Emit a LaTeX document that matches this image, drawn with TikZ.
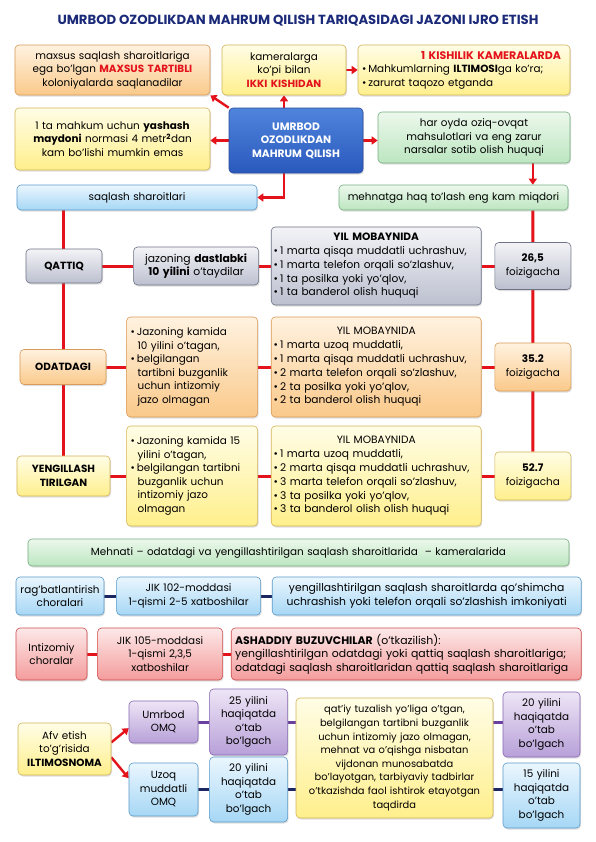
\documentclass[tikz,border=0pt]{standalone}
\usepackage{fontspec}
\setmainfont{Poppins}
\usetikzlibrary{arrows.meta}
\usetikzlibrary{positioning}
\usetikzlibrary{shadows}
\usetikzlibrary{backgrounds}
\definecolor{hred}{HTML}{E3121B}
\definecolor{navy}{HTML}{1B2A78}
\definecolor{linknavy}{HTML}{1C2660}
\definecolor{linkpurple}{HTML}{6B3FA0}
\definecolor{orangeT}{HTML}{FFF2E0}
\definecolor{orangeB}{HTML}{FAC98A}
\definecolor{orangeD}{HTML}{D99A55}
\definecolor{yellowT}{HTML}{FFFDE6}
\definecolor{yellowB}{HTML}{FFEF8C}
\definecolor{yellowD}{HTML}{D4B458}
\definecolor{greenT}{HTML}{ECF8EC}
\definecolor{greenB}{HTML}{BCE6C0}
\definecolor{greenD}{HTML}{74AE80}
\definecolor{lblueT}{HTML}{EAF6FE}
\definecolor{lblueB}{HTML}{A6D7F5}
\definecolor{lblueD}{HTML}{5B9BCB}
\definecolor{cblueT}{HTML}{4F84DC}
\definecolor{cblueB}{HTML}{2A59BD}
\definecolor{cblueD}{HTML}{2A4C9C}
\definecolor{greyT}{HTML}{F3F3F7}
\definecolor{greyB}{HTML}{BCC0CF}
\definecolor{greyD}{HTML}{6E7385}
\definecolor{redT}{HTML}{FDE8E8}
\definecolor{redB}{HTML}{F49C9C}
\definecolor{redD}{HTML}{CF4D4D}
\definecolor{purpT}{HTML}{EEE5F6}
\definecolor{purpB}{HTML}{B7A0D8}
\definecolor{purpD}{HTML}{8667B2}
\newcommand{\bulitem}{\textbullet\hspace{2bp}}
\newcommand{\bulcont}{\hspace*{7bp}}
\newcommand{\midline}[1]{\hspace*{\fill}#1\hspace*{\fill}\null}
\hyphenpenalty=10000

\begin{document}
\begin{tikzpicture}[x=1bp, y=-1bp, font=\fontsize{10.4bp}{13.5bp}\selectfont,
                box/.style={rectangle, rounded corners=4bp, line width=0.6bp, align=center, inner sep=2bp,
                            drop shadow={opacity=0.25, shadow xshift=1bp, shadow yshift=-1.5bp}},
                boxsize/.style 2 args={minimum width=#1bp, minimum height=#2bp, text width=#1bp-8bp},
                orangebox/.style={box, draw=orangeD, top color=orangeT, bottom color=orangeB},
                yellowbox/.style={box, draw=yellowD, top color=yellowT, bottom color=yellowB},
                greenbox/.style={box, draw=greenD, top color=greenT, bottom color=greenB},
                lightbluebox/.style={box, draw=lblueD, top color=lblueT, bottom color=lblueB},
                centralbox/.style={box, draw=cblueD, top color=cblueT, bottom color=cblueB, text=white},
                greybox/.style={box, draw=greyD, top color=greyT, bottom color=greyB},
                redbox/.style={box, draw=redD, top color=redT, bottom color=redB},
                purplebox/.style={box, draw=purpD, top color=purpT, bottom color=purpB},
                yiltext/.style={align=left, text width=205bp, font=\fontsize{10.6bp}{13.8bp}\selectfont},
                arrow/.style={draw=hred, line width=2.4bp, -{Triangle[length=6bp,width=8bp]}},
                redlink/.style={draw=hred, line width=3bp},
                navylink/.style={draw=linknavy, line width=3bp},
                purplelink/.style={draw=linkpurple, line width=3bp}
            ]
            \useasboundingbox (0,0) rectangle (596,842);
            \node[font=\fontsize{13.2bp}{15bp}\selectfont\bfseries, text=navy] (title) at (298,21)
                {UMRBOD OZODLIKDAN MAHRUM QILISH TARIQASIDAGI JAZONI IJRO ETISH};
            % top
            \node[orangebox, boxsize={195}{50}] (maxsus) at (112.5,70)
                {maxsus saqlash sharoitlariga\\ ega bo'lgan \textcolor{hred}{\textbf{MAXSUS TARTIBLI}}\\ koloniyalarda saqlanadilar};
            \node[yellowbox, boxsize={124}{50}] (kamera) at (284,70)
                {kameralarga\\ ko'pi bilan\\ \textcolor{hred}{\textbf{IKKI KISHIDAN}}};
            \node[yellowbox, boxsize={212}{50}, align=left] (kishilik) at (464,70)
                {\hspace*{\fill}\textcolor{hred}{\textbf{\fontsize{11bp}{13.5bp}\selectfont 1 KISHILIK KAMERALARDA}}\hspace*{5bp}\null\\
                 \bulitem Mahkumlarning \textbf{ILTIMOSI}ga ko'ra;\\ \bulitem zarurat taqozo etganda};
            \node[yellowbox, boxsize={195}{62}] (yashash) at (112.5,139)
                {1 ta mahkum uchun \textbf{yashash}\\ \textbf{maydoni} normasi 4 metr\textsuperscript{\textbf{2}}dan\\ kam bo'lishi mumkin emas};
            \node[centralbox, boxsize={134}{65}, font=\fontsize{10.7bp}{13.5bp}\selectfont\bfseries] (umrbod) at (296,140.5)
                {UMRBOD\\ OZODLIKDAN\\ MAHRUM QILISH};
            \node[greenbox, boxsize={192}{51}] (oziq) at (474,137.5)
                {har oyda oziq-ovqat\\ mahsulotlari va eng zarur\\ narsalar sotib olish huquqi};
            \node[lightbluebox, boxsize={240}{25}] (saqlash) at (137,197.5) {saqlash sharoitlari};
            \node[greenbox, boxsize={229}{25}] (mehnat) at (453.5,197.5) {mehnatga haq to'lash eng kam miqdori};
            % qattiq
            \node[greybox, boxsize={76}{34}] (qattiq) at (64,266) {\textbf{QATTIQ}};
            \node[greybox, boxsize={125}{38}, right=31bp of qattiq, font=\fontsize{10.8bp}{13.5bp}\selectfont] (jazo1)
                {jazoning \textbf{dastlabki}\\ \textbf{10 yilini} o'taydilar};
            \node[greybox, boxsize={210}{78}, right=12bp of jazo1, yiltext] (yil1)
                {\midline{\textbf{YIL MOBAYNIDA}}\\
                 \bulitem 1 marta qisqa muddatli uchrashuv,\\ \bulitem 1 marta telefon orqali so'zlashuv,\\
                 \bulitem 1 ta posilka yoki yo'qlov,\\ \bulitem 1 ta banderol olish huquqi};
            \node[greybox, boxsize={76}{47}, right=13bp of yil1] (p265) {\textbf{26,5}\\ foizigacha};
            % odatdagi
            \node[orangebox, boxsize={86}{35}] (odat) at (63,367) {\textbf{ODATDAGI}};
            \node[orangebox, boxsize={131}{100}, right=20bp of odat, align=left] (bul2)
                {\bulitem Jazoning kamida\\ \bulcont 10 yilini o'tagan,\\ \bulitem belgilangan\\
                 \bulcont tartibni buzganlik\\ \bulcont uchun intizomiy\\ \bulcont jazo olmagan};
            \node[orangebox, boxsize={210}{100}, right=13bp of bul2, yiltext] (yil2)
                {\midline{YIL MOBAYNIDA}\\
                 \bulitem 1 marta uzoq muddatli,\\ \bulitem 1 marta qisqa muddatli uchrashuv,\\
                 \bulitem 2 marta telefon orqali so'zlashuv,\\ \bulitem 2 ta posilka yoki yo'qlov,\\
                 \bulitem 2 ta banderol olish huquqi};
            \node[orangebox, boxsize={76}{48}, right=13bp of yil2] (p352) {\textbf{35.2}\\ foizigacha};
            % yengillashtirilgan
            \node[yellowbox, boxsize={93}{40}] (yengil) at (63.5,476) {\textbf{YENGILLASH}\\ \textbf{TIRILGAN}};
            \node[yellowbox, boxsize={131}{100}, right=16bp of yengil, align=left] (bul3)
                {\bulitem Jazoning kamida 15\\ \bulcont yilini o'tagan,\\ \bulitem belgilangan tartibni\\
                 \bulcont buzganlik uchun\\ \bulcont intizomiy jazo\\ \bulcont olmagan};
            \node[yellowbox, boxsize={210}{100}, right=13bp of bul3, yiltext] (yil3)
                {\midline{YIL MOBAYNIDA}\\
                 \bulitem 1 marta uzoq muddatli,\\ \bulitem 2 marta qisqa muddatli uchrashuv,\\
                 \bulitem 3 marta telefon orqali so'zlashuv,\\ \bulitem 3 ta posilka yoki yo'qlov,\\
                 \bulitem 3 ta banderol olish olish huquqi};
            \node[yellowbox, boxsize={76}{48}, right=13bp of yil3] (p527) {\textbf{52.7}\\ foizigacha};
            \node[greenbox, boxsize={541}{27}] (mehnati) at (298.5,552.5)
                {Mehnati -- odatdagi va yengillashtirilgan saqlash sharoitlarida ~-- kameralarida};
            % choralar
            \node[lightbluebox, boxsize={88}{38}] (rag) at (60,596) {\mbox{rag'batlantirish}\\ choralari};
            \node[lightbluebox, boxsize={144}{38}, right=12bp of rag] (jik102) {JIK 102-moddasi\\ 1-qismi 2-5 xatboshilar};
            \node[lightbluebox, boxsize={309}{38}, right=11bp of jik102, font=\fontsize{10.8bp}{13.5bp}\selectfont] (imkon)
                {yengillashtirilgan saqlash sharoitlarda qo'shimcha\\ uchrashish yoki telefon orqali so'zlashish imkoniyati};
            \node[redbox, boxsize={71}{52}] (intiz) at (51.5,654) {Intizomiy\\ choralar};
            \node[redbox, boxsize={125}{52}, right=10bp of intiz] (jik105) {JIK 105-moddasi\\ 1-qismi 2,3,5\\ xatboshilar};
            \node[redbox, boxsize={350}{52}, right=8bp of jik105, align=left, font=\fontsize{10.9bp}{13.5bp}\selectfont] (ashad)
                {\textbf{ASHADDIY BUZUVCHILAR} (o'tkazilish):\\
                 yengillashtirilgan odatdagi yoki qattiq saqlash sharoitlariga;\\
                 odatdagi saqlash sharoitlaridan qattiq saqlash sharoitlariga};
            % afv
            \node[yellowbox, boxsize={93}{52}] (afv) at (64.5,749) {Afv etish\\ to'g'risida\\ \textbf{ILTIMOSNOMA}};
            \node[purplebox, boxsize={69}{42}] (omq1) at (163.5,722) {Umrbod\\ OMQ};
            \node[lightbluebox, boxsize={69}{53}] (omq2) at (163.5,789.5) {Uzoq\\ muddatli\\ OMQ};
            \node[purplebox, boxsize={78}{66}, right=11bp of omq1] (y25)
                {25 yilini\\ haqiqatda\\ o'tab\\ bo'lgach};
            \node[lightbluebox, boxsize={78}{65}, right=11bp of omq2] (y20a)
                {20 yilini\\ haqiqatda\\ o'tab\\ bo'lgach};
            \node[yellowbox, boxsize={195}{120}, text width=193bp, font=\fontsize{9.9bp}{13.6bp}\selectfont] (shart) at (394.5,758)
                {qat'iy tuzalish yo'liga o'tgan,\\ belgilangan tartibni buzganlik\\ uchun intizomiy jazo olmagan,\\
                 mehnat va o'qishga nisbatan\\ vijdonan munosabatda\\ bo'layotgan, tarbiyaviy tadbirlar\\
                 o'tkazishda faol ishtirok etayotgan\\ taqdirda};
            \node[purplebox, boxsize={77}{65}] (y20b) at (541.5,724.5)
                {20 yilini\\ haqiqatda\\ o'tab\\ bo'lgach};
            \node[lightbluebox, boxsize={77}{65}] (y15) at (541.5,795.5)
                {15 yilini\\ haqiqatda\\ o'tab\\ bo'lgach};
            \begin{scope}[on background layer]
                \fill[white] (0,0) rectangle (596,842);
                \draw[arrow] (umrbod.north west) -- (maxsus.south east);
                \draw[arrow] (umrbod.north -| kamera) -- (kamera.south);
                \draw[arrow] (kamera.east) -- (kishilik.west);
                \draw[arrow] (umrbod.west) -- (umrbod.west -| yashash.east);
                \draw[arrow] (umrbod.east) -- (umrbod.east -| oziq.west);
                \draw[arrow] (umrbod.south -| kamera) |- (saqlash.east);
                \draw[arrow] (oziq.south -| p265) -- (mehnat.north -| p265);
                \draw[redlink] (mehnat.south -| p265) -- (p527.north);
                \draw[redlink] (saqlash.south -| odat) -- (yengil.north -| odat);
                \draw[redlink] (qattiq) -- (jazo1) (jazo1) -- (yil1) (yil1) -- (p265);
                \draw[redlink] (odat) -- (bul2) (bul2) -- (yil2) (yil2) -- (p352);
                \draw[redlink] (yengil) -- (bul3) (bul3) -- (yil3) (yil3) -- (p527);
                \draw[navylink] (rag) -- (jik102) (jik102) -- (imkon);
                \draw[redlink] (intiz) -- (jik105) (jik105) -- (ashad);
                \draw[arrow] (afv.8) -- (omq1.190);
                \draw[arrow] (afv.-10) -- (omq2.162);
                \draw[purplelink] (omq1) -- (y25) (y25.east) -- (y25.east -| shart.west) (shart.east |- y25) -- (y20b.west |- y25);
                \draw[navylink] (omq2) -- (y20a) (y20a.east) -- (y20a.east -| shart.west) (shart.east |- y20a) -- (y15.west |- y20a);
            \end{scope}
        \end{tikzpicture}
\end{document}
